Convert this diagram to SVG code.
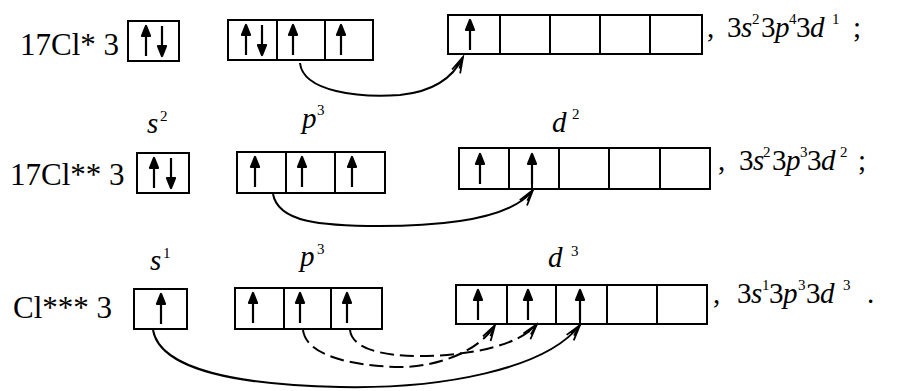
<svg xmlns="http://www.w3.org/2000/svg" width="903" height="391" viewBox="0 0 903 391">
<style>
text{font-family:"Liberation Serif","Times New Roman","DejaVu Serif","Noto Serif",serif;fill:#000}
.bx{fill:none;stroke:#000;stroke-width:2}
.dv{stroke:#000;stroke-width:2}
.sp{fill:#000;stroke:#000;stroke-width:2.2;stroke-linejoin:round}
.lbl{font-size:31px}
.it{font-style:italic;font-size:29px}
.rm{font-size:29px}
.sup{font-size:15px}
.cn{fill:none;stroke:#000;stroke-width:2}
.ds{stroke-dasharray:14 6}
</style>
<defs>
<path id="up" class="sp" d="M0,15 V-10 M-4,-5 L0,-15 L4,-5 Z"/>
<path id="dn" class="sp" d="M0,-15 V10 M-4,5 L0,15 L4,5 Z"/>
<marker id="ah" markerWidth="20" markerHeight="12" refX="18" refY="6" orient="auto" markerUnits="userSpaceOnUse">
<path d="M2,1.5 L18,6 L2,10.5 M6,4.2 L18,6 L6,7.8" fill="none" stroke="#000" stroke-width="1.8"/>
</marker>
</defs>

<g id="row1">
<text class="lbl" x="20" y="55">17Cl* 3</text>
<g id="r1-s">
<rect class="bx" x="128" y="21" width="51" height="40"/>
<use href="#up" x="146" y="41"/><use href="#dn" x="162" y="41"/>
</g>
<g id="r1-p">
<rect class="bx" x="228" y="20" width="145" height="40"/>
<path class="dv" d="M277,20 V60 M325,20 V60"/>
<use href="#up" x="246" y="40"/><use href="#dn" x="262" y="40"/>
<use href="#up" x="293" y="40"/><use href="#up" x="341" y="40"/>
</g>
<g id="r1-d">
<rect class="bx" x="448" y="15" width="254" height="39"/>
<path class="dv" d="M500,15 V54 M550,15 V54 M600,15 V54 M650,15 V54"/>
<use href="#up" x="470" y="35"/>
</g>
<g id="r1-cfg">
<text class="rm" x="707" y="37">,</text>
<text class="rm" x="727" y="37">3</text><text class="it" x="741" y="37">s</text><text class="sup" x="752" y="24">2</text>
<text class="rm" x="761" y="37">3</text><text class="it" x="775" y="37">p</text><text class="sup" x="789" y="24">4</text>
<text class="rm" x="796" y="37">3</text><text class="it" x="810" y="37">d</text><text class="sup" x="832" y="24">1</text>
<text class="rm" x="853" y="37">;</text>
</g>
</g>

<g id="row2">
<text class="lbl" x="10" y="185">17Cl** 3</text>
<text class="it" x="147" y="133">s</text><text class="sup" x="160" y="121">2</text>
<text class="it" x="302" y="128">p</text><text class="sup" x="317" y="115">3</text>
<text class="it" x="552" y="132">d</text><text class="sup" x="572" y="119">2</text>
<g id="r2-s">
<rect class="bx" x="137" y="153" width="52" height="40"/>
<use href="#up" x="154" y="173"/><use href="#dn" x="171" y="173"/>
</g>
<g id="r2-p">
<rect class="bx" x="237" y="152" width="148" height="41"/>
<path class="dv" d="M286,152 V193 M335,152 V193"/>
<use href="#up" x="255" y="172"/><use href="#up" x="302" y="172"/><use href="#up" x="352" y="172"/>
</g>
<g id="r2-d">
<rect class="bx" x="459" y="148" width="251" height="41"/>
<path class="dv" d="M509,148 V189 M559,148 V189 M609,148 V189 M660,148 V189"/>
<use href="#up" x="480" y="169"/><use href="#up" x="532" y="169"/>
<path class="dv" d="M532,184 V189"/>
</g>
<g id="r2-cfg">
<text class="rm" x="718" y="170">,</text>
<text class="rm" x="739" y="170">3</text><text class="it" x="753" y="170">s</text><text class="sup" x="763" y="157">2</text>
<text class="rm" x="772" y="170">3</text><text class="it" x="786" y="170">p</text><text class="sup" x="800" y="157">3</text>
<text class="rm" x="807" y="170">3</text><text class="it" x="821" y="170">d</text><text class="sup" x="840" y="157">2</text>
<text class="rm" x="858" y="170">;</text>
</g>
</g>

<g id="row3">
<text class="lbl" x="13" y="318">Cl*** 3</text>
<text class="it" x="150" y="270">s</text><text class="sup" x="163" y="258">1</text>
<text class="it" x="300" y="266">p</text><text class="sup" x="317" y="254">3</text>
<text class="it" x="548" y="267">d</text><text class="sup" x="571" y="256">3</text>
<g id="r3-s">
<rect class="bx" x="134" y="289" width="53" height="40"/>
<use href="#up" x="161" y="309"/>
</g>
<g id="r3-p">
<rect class="bx" x="235" y="288" width="147" height="41"/>
<path class="dv" d="M284,288 V329 M331,288 V329"/>
<use href="#up" x="253" y="308"/><use href="#up" x="300" y="308"/><use href="#up" x="347" y="308"/>
</g>
<g id="r3-d">
<rect class="bx" x="456" y="285" width="251" height="39"/>
<path class="dv" d="M507,285 V324 M556,285 V324 M607,285 V324 M657,285 V324"/>
<use href="#up" x="478" y="305"/><use href="#up" x="528" y="305"/><use href="#up" x="580" y="305"/>
<path class="dv" d="M580,320 V324"/>
</g>
<g id="r3-cfg">
<text class="rm" x="713" y="303">,</text>
<text class="rm" x="737" y="303">3</text><text class="it" x="751" y="303">s</text><text class="sup" x="762" y="290">1</text>
<text class="rm" x="769" y="303">3</text><text class="it" x="783" y="303">p</text><text class="sup" x="798" y="290">3</text>
<text class="rm" x="806" y="303">3</text><text class="it" x="820" y="303">d</text><text class="sup" x="843" y="290">3</text>
<text class="rm" x="867" y="303">.</text>
</g>
</g>

<g id="connectors">
<path class="cn" marker-end="url(#ah)" d="M300,63 C303,92 360,98 400,95 C430,92 452,80 463,57"/>
<path class="cn" marker-end="url(#ah)" d="M273,194 C278,222 320,226 380,226 C450,226 512,218 533,190"/>
<path class="cn" marker-end="url(#ah)" d="M153,330 C160,370 240,385 340,387 C440,389 545,370 580,325"/>
<path class="cn ds" marker-end="url(#ah)" d="M303,330 C306,355 350,366 400,367 C440,367 480,350 495,325"/>
<path class="cn ds" marker-end="url(#ah)" d="M350,330 C352,348 380,356 420,356 C470,356 520,345 537,324"/>
</g>
</svg>
